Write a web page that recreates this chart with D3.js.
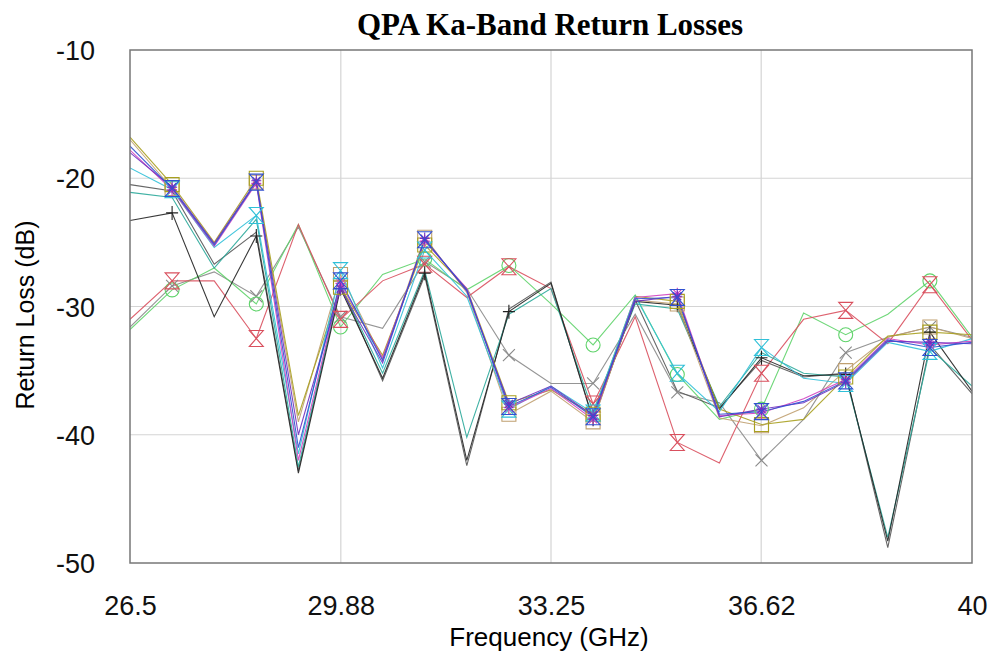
<!DOCTYPE html>
<html>
<head>
<meta charset="utf-8">
<script src="https://cdn.jsdelivr.net/npm/d3@7/dist/d3.min.js"></script>
<style>
  body { margin: 0; background: #fff; }
</style>
</head>
<body>
<script>
// frequency points (GHz)
const freqs = [26.5, 27.175, 27.85, 28.525, 29.2, 29.875, 30.55, 31.225, 31.9, 32.575, 33.25,
               33.925, 34.6, 35.275, 35.95, 36.625, 37.3, 37.975, 38.65, 39.325, 40];
const xTicks = [26.5, 29.88, 33.25, 36.62, 40];
const yTicks = [-10, -20, -30, -40, -50];

// return loss per element (dB)
const blue    = [-17.5,-20.8,-25.2,-20.3,-41.0,-28.0,-34.2,-24.8,-28.7,-37.8,-36.3,-38.6,-29.4,-29.3,-38.4,-38.2,-37.4,-35.8,-32.6,-33.2,-32.8];
const purple  = [-18.0,-20.7,-25.1,-20.2,-40.0,-28.6,-34.4,-24.7,-28.8,-37.6,-36.2,-38.5,-29.6,-29.2,-38.6,-38.0,-37.5,-35.9,-32.7,-32.8,-32.9];
const magenta = [-17.8,-20.9,-25.3,-20.4,-42.0,-28.2,-34.0,-24.9,-28.6,-37.9,-36.4,-38.8,-29.3,-29.0,-38.5,-38.3,-37.2,-35.7,-32.5,-33.0,-32.7];
const olive   = [-16.8,-20.5,-25.0,-20.0,-38.5,-28.5,-33.8,-25.2,-28.6,-37.5,-36.5,-38.4,-29.2,-29.6,-38.0,-39.2,-38.8,-35.5,-32.3,-32.0,-32.2];
const tan     = [-17.0,-20.8,-25.1,-20.3,-39.0,-27.5,-34.1,-24.6,-28.9,-38.4,-36.6,-39.0,-29.5,-29.8,-38.7,-39.3,-37.9,-35.0,-32.4,-31.6,-32.5];
const cyan    = [-19.2,-20.9,-25.4,-22.9,-41.5,-27.2,-34.8,-25.6,-29.2,-38.0,-36.2,-38.3,-29.2,-35.2,-38.2,-33.2,-35.6,-36.0,-32.8,-33.5,-32.5];
const red     = [-31.0,-28.0,-28.0,-32.5,-23.6,-31.0,-28.0,-26.7,-29.3,-26.9,-28.6,-37.6,-30.8,-40.6,-42.2,-35.2,-31.0,-30.3,-32.9,-28.3,-32.6];
const green   = [-31.8,-28.7,-27.0,-29.8,-23.6,-31.6,-27.5,-26.3,-28.7,-26.8,-29.8,-33.0,-29.1,-35.3,-38.8,-38.0,-30.5,-32.2,-30.6,-28.0,-32.4];
const black   = [-23.3,-22.7,-30.8,-24.5,-43.0,-28.6,-35.6,-27.4,-42.0,-30.4,-28.2,-38.8,-29.6,-29.9,-38.0,-34.0,-35.4,-35.3,-48.3,-32.0,-36.6];
const teal    = [-21.1,-21.5,-27.0,-23.2,-42.5,-28.4,-35.2,-27.2,-40.2,-30.6,-28.6,-38.2,-29.8,-30.2,-37.8,-33.6,-35.2,-35.5,-48.0,-33.3,-36.2];
const gray    = [-31.6,-28.4,-27.3,-29.2,-23.8,-30.8,-31.7,-26.5,-28.6,-33.8,-36.0,-36.0,-30.6,-36.7,-37.5,-42.0,-38.8,-33.6,-32.4,-31.6,-32.4];
const darkgray= [-20.5,-21.0,-26.7,-24.2,-42.8,-28.3,-35.8,-27.6,-42.4,-30.2,-28.1,-38.9,-29.5,-36.6,-37.9,-34.2,-35.5,-35.2,-48.8,-33.0,-36.8];

const series = [
  {v: gray,     c: "#8a8a8a", m: "x"},
  {v: green,    c: "#5fd36a", m: "circle"},
  {v: red,      c: "#d9505e", m: "hour"},
  {v: darkgray, c: "#555555", m: null},
  {v: teal,     c: "#2aa89a", m: null},
  {v: black,    c: "#222222", m: "plus"},
  {v: tan,      c: "#c0a070", m: "square"},
  {v: olive,    c: "#a8a020", m: "square"},
  {v: cyan,     c: "#30c0d8", m: "hour"},
  {v: magenta,  c: "#d040c0", m: "star"},
  {v: purple,   c: "#7030c0", m: "star"},
  {v: blue,     c: "#3050d0", m: "hour"}
];

const W = 990, H = 656;
const m = {left: 130, right: 18, top: 50, bottom: 93};
const sans = "'Liberation Sans', Arial, sans-serif";

const svg = d3.select("body").append("svg")
  .attr("width", W).attr("height", H)
  .style("font-family", sans);

const x = d3.scaleLinear().domain([26.5, 40]).range([m.left, W - m.right]);
const y = d3.scaleLinear().domain([-50, -10]).range([H - m.bottom, m.top]);

// grid
svg.append("g").selectAll("line").data(xTicks.slice(1, -1)).join("line")
  .attr("x1", d => x(d)).attr("x2", d => x(d))
  .attr("y1", y(-10)).attr("y2", y(-50))
  .attr("stroke", "#d4d4d4").attr("stroke-width", 1.2);
svg.append("g").selectAll("line").data(yTicks.slice(1, -1)).join("line")
  .attr("x1", x(26.5)).attr("x2", x(40))
  .attr("y1", d => y(d)).attr("y2", d => y(d))
  .attr("stroke", "#d4d4d4").attr("stroke-width", 1.2);

// axes (labels only)
const xAxis = svg.append("g").attr("transform", "translate(0,615)")
  .call(d3.axisBottom(x).tickValues(xTicks).tickSize(0).tickFormat(d => d));
const yAxis = svg.append("g").attr("transform", `translate(${m.left - 32},0)`)
  .call(d3.axisLeft(y).tickValues(yTicks).tickSize(0).tickFormat(d => d));
[xAxis, yAxis].forEach(a => {
  a.select(".domain").remove();
  a.selectAll("text").attr("font-size", 27).attr("fill", "#111")
    .style("font-family", sans);
});
xAxis.selectAll("text").attr("y", 0).attr("dy", 0);
yAxis.selectAll("text").attr("dy", "0.36em");

svg.append("defs").append("clipPath").attr("id", "plot")
  .append("rect").attr("x", m.left).attr("y", m.top)
  .attr("width", W - m.left - m.right).attr("height", H - m.top - m.bottom);

const line = d3.line().x((d, i) => x(freqs[i])).y(d => y(d));
const plot = svg.append("g").attr("clip-path", "url(#plot)");

plot.selectAll("path.s").data(series).join("path")
  .attr("class", "s")
  .attr("d", s => line(s.v))
  .attr("fill", "none")
  .attr("stroke", s => s.c)
  .attr("stroke-width", 1.1)
  .attr("stroke-opacity", 0.9);

function marker(t) {
  switch (t) {
    case "hour":   return "M-7,-8L7,-8L-7,8L7,8Z";
    case "square": return "M-7,-7L7,-7L7,7L-7,7Z";
    case "circle": return "M7,0A7,7 0 1,1 -7,0A7,7 0 1,1 7,0Z";
    case "x":      return "M-6,-6L6,6M-6,6L6,-6";
    case "plus":   return "M-6,0L6,0M0,-7L0,7";
    case "star":   return "M-5,0L5,0M0,-6L0,6M-4,-4L4,4M-4,4L4,-4";
  }
}

series.filter(s => s.m).forEach(s => {
  plot.append("g").selectAll("path")
    .data(s.v.map((v, i) => ({v, i})).filter(d => d.i % 2 === 1))
    .join("path")
    .attr("transform", d => `translate(${x(freqs[d.i])},${y(d.v)})`)
    .attr("d", marker(s.m))
    .attr("fill", "none")
    .attr("stroke", s.c)
    .attr("stroke-width", 1.1);
});

// frame
svg.append("rect")
  .attr("x", m.left).attr("y", m.top)
  .attr("width", W - m.left - m.right).attr("height", H - m.top - m.bottom)
  .attr("fill", "none").attr("stroke", "#777").attr("stroke-width", 1.5);

svg.append("text")
  .attr("x", 550).attr("y", 35)
  .attr("text-anchor", "middle")
  .style("font-family", "'Liberation Serif', 'Times New Roman', serif")
  .attr("font-weight", "bold").attr("font-size", 31)
  .text("QPA Ka-Band Return Losses");

svg.append("text")
  .attr("x", 549).attr("y", 646)
  .attr("text-anchor", "middle").attr("font-size", 26)
  .text("Frequency (GHz)");

svg.append("text")
  .attr("transform", "translate(34,315) rotate(-90)")
  .attr("text-anchor", "middle").attr("font-size", 25)
  .text("Return Loss (dB)");
</script>
</body>
</html>
